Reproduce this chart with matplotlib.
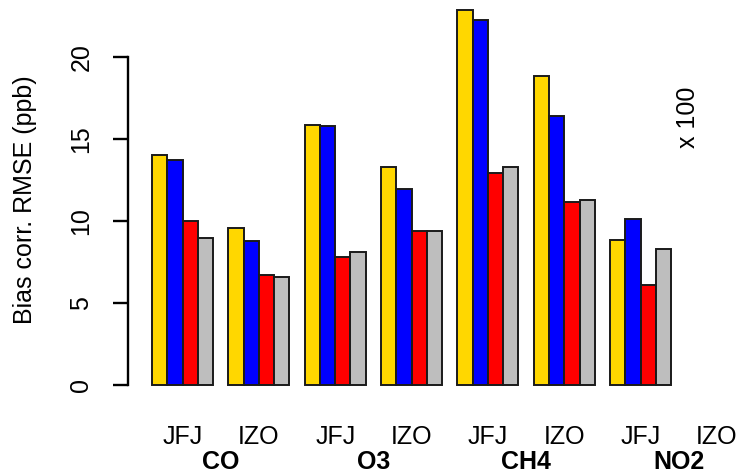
import numpy as np
import matplotlib.pyplot as plt

plt.rcParams['font.family'] = ['Liberation Sans', 'DejaVu Sans']

species = ["CO", "O3", "CH4", "NO2"]
sites = ["JFJ", "IZO"]
colors = ["#FFD700", "#0000FF", "#FF0000", "#BEBEBE"]

# one value per station (CO JFJ, CO IZO, O3 JFJ, ... NO2 IZO), NO2 is x 100
yellow = [14.0, 9.55, 15.85, 13.3, 22.85, 18.85, 8.84, np.nan]
blue = [13.7, 8.78, 15.8, 11.95, 22.26, 16.4, 10.12, np.nan]
red = [10.0, 6.69, 7.8, 9.4, 12.9, 11.14, 6.1, np.nan]
grey = [8.98, 6.6, 8.1, 9.4, 13.27, 11.26, 8.29, np.nan]
series = [yellow, blue, red, grey]

fig = plt.figure(figsize=(7.42, 4.75), dpi=100)
# axes spans from the y axis line to the right edge (R-like plot region, cropped)
ax = fig.add_axes([128 / 742, 1 - 400 / 475, 1 - 128 / 742, 400 / 475])

ngroups = len(yellow)
for j, vals in enumerate(series):
    for g in range(ngroups):
        if np.isnan(vals[g]):
            continue
        ax.bar(1 + 5 * g + j, vals[g], width=1, align='edge', color=colors[j],
               edgecolor='#1a1a1a', linewidth=1.4)

ax.set_xlim(-0.57, -0.57 + (742 - 128) / 15.27)
ax.set_ylim(-15 / 16.4, 385 / 16.4)

for s in ['top', 'right', 'bottom']:
    ax.spines[s].set_visible(False)
ax.spines['left'].set_bounds(0, 20)
ax.spines['left'].set_linewidth(1.7)
ax.set_xticks([])
ax.set_yticks([0, 5, 10, 15, 20])
ax.tick_params(axis='y', length=11, width=1.7, pad=14, labelsize=18)
for lab in ax.get_yticklabels():
    lab.set_rotation(90)
    lab.set_va('center')

# station labels under each group
for g in range(ngroups):
    ax.text(3 + 5 * g, -52 / 16.4, sites[g % 2], ha='center', va='center', fontsize=18)
# species labels under each pair
for k, sp in enumerate(species):
    ax.text(5.5 + 10 * k, -77 / 16.4, sp, ha='center', va='center', fontsize=18,
            fontweight='bold')

ax.text(36.1, 16.3, "x 100", rotation=90, ha='center', va='center', fontsize=18)

fig.text(25 / 742, 1 - 200 / 475, "Bias corr. RMSE (ppb)", rotation=90,
         ha='center', va='center', fontsize=18)

fig.savefig("out.png", dpi=100)
